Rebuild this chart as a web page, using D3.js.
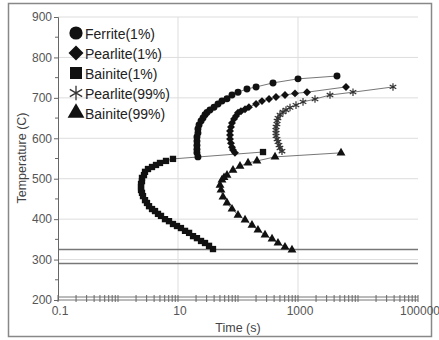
<!DOCTYPE html>
<html>
<head>
<meta charset="utf-8">
<script src="https://cdn.jsdelivr.net/npm/d3@7"></script>
<style>
  body { margin: 0; background: #fff; }
  text { font-family: "Liberation Sans", Arial, sans-serif; }
</style>
</head>
<body>
<div id="chart"></div>
<script>
// [time (s), temperature (C)]
const ferrite1 = [[21.5,554],[20.7,564],[20.7,573],[20.7,583],[20.7,593],[20.7,603],[21.5,613],[21.5,623],
  [22.4,633],[24.2,643],[26.1,650],[28.2,658],[30.4,664],[34.1,670],[39.8,677],[46.4,685],[54.1,692],
  [65.6,698],[79.4,707],[100,714],[141,722],[200,727],[383,737],[1000,747],[4467,754]];
const pearlite1 = [[89,564],[82.5,571],[79.4,578],[76.4,588],[73.6,598],[73.6,608],[73.6,618],[76.4,628],
  [79.4,638],[85.8,648],[92.8,655],[100,663],[112,667],[131,672],[152,677],[200,685],[251,692],[329,697],
  [430,702],[607,707],[891,711],[1413,714],[6310,727]];
const bainite1 = [[38.3,326],[32.9,334],[28.2,341],[24.2,346],[20.7,353],[17.8,358],[15.3,366],[13.1,371],
  [11.2,378],[9.62,383],[8.25,388],[7.08,395],[6.07,400],[5.21,408],[4.64,413],[4.14,420],[3.69,425],
  [3.29,432],[3.04,440],[2.82,447],[2.61,457],[2.51,465],[2.42,472],[2.42,479],[2.42,487],[2.51,494],
  [2.51,502],[2.71,509],[2.82,517],[3.16,524],[3.69,529],[4.3,534],[5.01,539],[6.31,544],[8.25,549],
  [261,566]];
const pearlite99 = [[541,568],[501,576],[482,583],[464,591],[447,598],[430,606],[430,613],[430,620],
  [430,628],[447,635],[447,643],[464,650],[501,658],[562,665],[631,670],[736,676],[926,682],[1212,690],
  [1920,697],[3415,707],[8254,714],[38300,727]];
const bainite99 = [[794,324],[607,331],[464,341],[369,351],[282,361],[215,373],[171,385],[131,398],
  [100,410],[79.4,425],[65.6,440],[56.2,455],[52.1,472],[50.1,484],[54.1,497],[58.5,503],[65.6,509],
  [82.5,521],[108,531],[147,539],[207,544],[414,554],[5210,564]];
const seriesNames = ["Ferrite(1%)", "Pearlite(1%)", "Bainite(1%)", "Pearlite(99%)", "Bainite(99%)"];
const refTemps = [325, 290];
const xTickLabels = [0.1, 10, 1000, 100000];
const yTicks = [200, 300, 400, 500, 600, 700, 800, 900];

const width = 439, height = 340;
const svg = d3.select('#chart').append('svg')
  .attr('width', width).attr('height', height);

svg.append('rect')
  .attr('x', 8.5).attr('y', 3.5).attr('width', 423).attr('height', 333)
  .attr('fill', 'none').attr('stroke', '#888').attr('stroke-width', 1.5);

const x = d3.scaleLog().domain([0.1, 100000]).range([58, 418]);
const y = d3.scaleLinear().domain([200, 900]).range([300, 17]);

// grid
svg.append('g').selectAll('line').data(yTicks.slice(1)).enter().append('line')
  .attr('x1', x(0.1)).attr('x2', x(100000))
  .attr('y1', d => y(d)).attr('y2', d => y(d))
  .attr('stroke', '#ddd').attr('stroke-width', 1);
svg.append('g').selectAll('line').data([10, 1000]).enter().append('line')
  .attr('x1', d => x(d)).attr('x2', d => x(d))
  .attr('y1', y(200)).attr('y2', y(900))
  .attr('stroke', '#ddd').attr('stroke-width', 1);

// reference temperature lines
svg.append('g').selectAll('line').data(refTemps).enter().append('line')
  .attr('x1', x(0.1)).attr('x2', x(100000))
  .attr('y1', d => y(d)).attr('y2', d => y(d))
  .attr('stroke', '#777').attr('stroke-width', 1.5);

// y axis
const yAxis = svg.append('g').attr('transform', 'translate(' + x(0.1) + ',0)')
  .call(d3.axisLeft(y).tickValues(yTicks).tickSize(4).tickPadding(2));
yAxis.select('.domain').attr('stroke', '#666');
yAxis.selectAll('.tick line').attr('stroke', '#666');
yAxis.selectAll('text').attr('fill', '#555').style('font-size', '12px')
  .style('font-family', '"Liberation Sans", Arial, sans-serif');
svg.append('g').selectAll('line').data(d3.range(250, 900, 100)).enter().append('line')
  .attr('x1', x(0.1) - 3).attr('x2', x(0.1))
  .attr('y1', d => y(d)).attr('y2', d => y(d))
  .attr('stroke', '#666');

// x axis: double line with minor ticks
const xTicks = [];
for (let e = -1; e < 5; e++) for (let m = 1; m < 10; m++) xTicks.push(m * Math.pow(10, e));
xTicks.push(100000);
svg.append('line').attr('x1', x(0.1)).attr('x2', x(100000))
  .attr('y1', y(200) - 3).attr('y2', y(200) - 3).attr('stroke', '#777');
svg.append('line').attr('x1', x(0.1)).attr('x2', x(100000))
  .attr('y1', y(200)).attr('y2', y(200)).attr('stroke', '#777');
svg.append('g').selectAll('line').data(xTicks).enter().append('line')
  .attr('x1', d => x(d)).attr('x2', d => x(d))
  .attr('y1', y(200) - 5).attr('y2', y(200) + 2)
  .attr('stroke', '#666');
svg.append('g').selectAll('text').data(xTickLabels).enter().append('text')
  .attr('x', d => x(d) + 2).attr('y', y(200) + 15)
  .attr('text-anchor', 'middle').attr('fill', '#555').style('font-size', '12px')
  .text(d => d);

// axis titles
svg.append('text').attr('transform', 'translate(26,158) rotate(-90)')
  .attr('text-anchor', 'middle').attr('fill', '#444').style('font-size', '12.5px')
  .text('Temperature (C)');
svg.append('text').attr('x', 238).attr('y', 332)
  .attr('text-anchor', 'middle').attr('fill', '#444').style('font-size', '12.5px')
  .text('Time (s)');

// series
const allData = [ferrite1, pearlite1, bainite1, pearlite99, bainite99];
const symbols = [d3.symbolCircle, d3.symbolDiamond2, d3.symbolSquare, d3.symbolAsterisk, d3.symbolTriangle];
const sizes = [38, 40, 40, 40, 34];

const line = d3.line().x(d => x(d[0])).y(d => y(d[1]));

allData.forEach((data, i) => {
  svg.append('path').datum(data)
    .attr('d', line).attr('fill', 'none')
    .attr('stroke', '#777').attr('stroke-width', 1);
});

allData.forEach((data, i) => {
  const g = svg.append('g');
  g.selectAll('path').data(data).enter().append('path')
    .attr('transform', d => 'translate(' + x(d[0]) + ',' + y(d[1]) + ')')
    .attr('d', d3.symbol().type(symbols[i]).size(sizes[i]))
    .attr('fill', symbols[i] === d3.symbolAsterisk ? 'none' : '#111')
    .attr('stroke', symbols[i] === d3.symbolAsterisk ? '#333' : 'none')
    .attr('stroke-width', 1.2);
});

// legend
const legend = svg.append('g').selectAll('g').data(seriesNames).enter().append('g')
  .attr('transform', (d, i) => 'translate(76,' + (33 + i * 20) + ')');
legend.append('path')
  .attr('d', (d, i) => d3.symbol().type(symbols[i]).size(sizes[i] * 3.6)())
  .attr('fill', (d, i) => symbols[i] === d3.symbolAsterisk ? 'none' : '#111')
  .attr('stroke', (d, i) => symbols[i] === d3.symbolAsterisk ? '#333' : 'none')
  .attr('stroke-width', 1.3);
legend.append('text')
  .attr('x', 9).attr('y', 5.5)
  .attr('fill', '#222').style('font-size', '14px')
  .text(d => d);
</script>
</body>
</html>
